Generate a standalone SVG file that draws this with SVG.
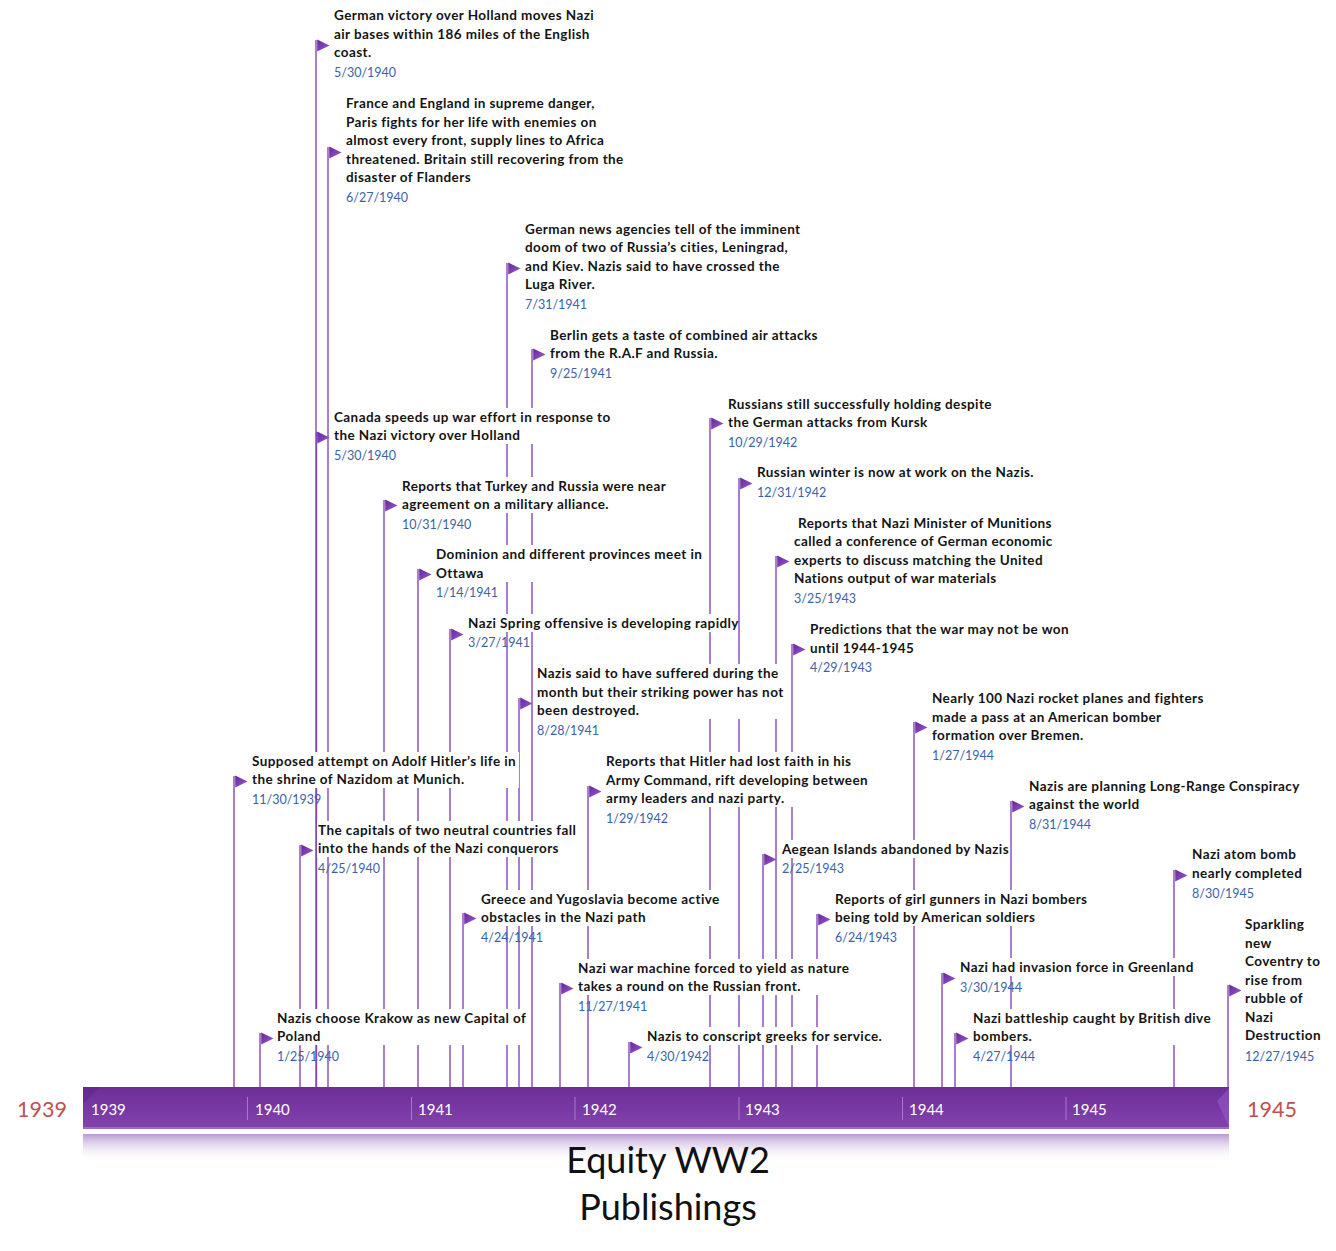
<svg xmlns="http://www.w3.org/2000/svg" xmlns:xlink="http://www.w3.org/1999/xlink" width="1336" height="1251" viewBox="0 0 1336 1251">
<style>
.t{font-family:Lato,"Liberation Sans",sans-serif;font-weight:bold;font-size:13.5px;letter-spacing:0.42px;fill:#141414}
.d{font-family:Lato,"Liberation Sans",sans-serif;font-size:12.5px;fill:#3a62a8}
.bg{fill:#ffffff}
.ln{stroke:#8448b8;stroke-width:1.4;fill:none}
.yr{font-family:Lato,"Liberation Sans",sans-serif;font-size:15px;fill:#ffffff}
.end{font-family:Lato,"Liberation Sans",sans-serif;font-size:21.5px;fill:#c0504d}
.ttl{font-family:Lato,"Liberation Sans",sans-serif;font-size:36px;fill:#111111;text-anchor:middle}
.tick{stroke:#a27ac6;stroke-width:1}
</style>
<defs>
<linearGradient id="fg" x1="0" y1="0" x2="1" y2="1">
<stop offset="0" stop-color="#65269a"/><stop offset="1" stop-color="#9c5cd2"/>
</linearGradient>
<linearGradient id="bar" x1="0" y1="0" x2="0" y2="1">
<stop offset="0" stop-color="#6b2e96"/><stop offset="0.5" stop-color="#7838a3"/><stop offset="1" stop-color="#8444ad"/>
</linearGradient>
<linearGradient id="refl" x1="0" y1="0" x2="0" y2="1">
<stop offset="0" stop-color="#b89ad2"/><stop offset="1" stop-color="#ffffff" stop-opacity="0"/>
</linearGradient>
<path id="flag" d="M1.2,-0.5 L13.5,5.5 L1.2,11.5 Z" fill="url(#fg)"/>
</defs>
<rect width="1336" height="1251" fill="#ffffff"/>

<g id="connectors">
<line class="ln" x1="316" y1="40" x2="316" y2="1088"/>
<line class="ln" x1="328" y1="147" x2="328" y2="1088"/>
<line class="ln" x1="507" y1="263" x2="507" y2="1088"/>
<line class="ln" x1="532" y1="349" x2="532" y2="1088"/>
<line class="ln" x1="316.5" y1="432" x2="316.5" y2="1088"/>
<line class="ln" x1="384" y1="500" x2="384" y2="1088"/>
<line class="ln" x1="418" y1="569" x2="418" y2="1088"/>
<line class="ln" x1="450" y1="629" x2="450" y2="1088"/>
<line class="ln" x1="519" y1="698" x2="519" y2="1088"/>
<line class="ln" x1="234" y1="776" x2="234" y2="1088"/>
<line class="ln" x1="588" y1="786" x2="588" y2="1088"/>
<line class="ln" x1="300" y1="845" x2="300" y2="1088"/>
<line class="ln" x1="463" y1="913" x2="463" y2="1088"/>
<line class="ln" x1="560" y1="983" x2="560" y2="1088"/>
<line class="ln" x1="260" y1="1033" x2="260" y2="1088"/>
<line class="ln" x1="629" y1="1042" x2="629" y2="1088"/>
<line class="ln" x1="710" y1="418" x2="710" y2="1088"/>
<line class="ln" x1="739" y1="478" x2="739" y2="1088"/>
<line class="ln" x1="776" y1="556" x2="776" y2="1088"/>
<line class="ln" x1="792" y1="644" x2="792" y2="1088"/>
<line class="ln" x1="763" y1="854" x2="763" y2="1088"/>
<line class="ln" x1="817" y1="914" x2="817" y2="1088"/>
<line class="ln" x1="914" y1="722" x2="914" y2="1088"/>
<line class="ln" x1="1011" y1="801" x2="1011" y2="1088"/>
<line class="ln" x1="942" y1="973" x2="942" y2="1088"/>
<line class="ln" x1="955" y1="1033" x2="955" y2="1088"/>
<line class="ln" x1="1174" y1="870" x2="1174" y2="1088"/>
<line class="ln" x1="1228" y1="985" x2="1228" y2="1088"/>
</g>

<g id="timeline">
<rect x="83" y="1134" width="1146" height="28" fill="url(#refl)"/>
<rect x="83" y="1087" width="1146" height="42" fill="url(#bar)"/>
<rect x="83" y="1127" width="1146" height="2" fill="#9a6cc2"/>
<polygon points="83,1087 100,1087 83,1104" fill="#5e2488" opacity="0.45"/>
<polygon points="1229,1088 1217,1101 1229,1127" fill="#9a62cc" opacity="0.5"/>
<line class="tick" x1="247.5" y1="1097" x2="247.5" y2="1120"/>
<line class="tick" x1="411.5" y1="1097" x2="411.5" y2="1120"/>
<line class="tick" x1="575" y1="1097" x2="575" y2="1120"/>
<line class="tick" x1="739" y1="1097" x2="739" y2="1120"/>
<line class="tick" x1="902.5" y1="1097" x2="902.5" y2="1120"/>
<line class="tick" x1="1066" y1="1097" x2="1066" y2="1120"/>
<text class="yr" x="91" y="1114.5">1939</text>
<text class="yr" x="255" y="1114.5">1940</text>
<text class="yr" x="418" y="1114.5">1941</text>
<text class="yr" x="582" y="1114.5">1942</text>
<text class="yr" x="745" y="1114.5">1943</text>
<text class="yr" x="909" y="1114.5">1944</text>
<text class="yr" x="1072" y="1114.5">1945</text>
<text class="end" x="17" y="1117">1939</text>
<text class="end" x="1247" y="1117">1945</text>
</g>

<g id="title">
<text class="ttl" x="668" y="1173">Equity WW2</text>
<text class="ttl" x="668" y="1220">Publishings</text>
</g>

<g id="e01"><use href="#flag" x="316" y="40"/><rect class="bg" x="333" y="6" width="265" height="56"/>
<text class="t"><tspan x="334" y="19.5">German victory over Holland moves Nazi</tspan><tspan x="334" y="38.5">air bases within 186 miles of the English</tspan><tspan x="334" y="56.5">coast.</tspan></text>
<text class="d" x="334" y="76.5">5/30/1940</text></g>

<g id="e02"><use href="#flag" x="328" y="147"/><rect class="bg" x="345" y="94" width="283" height="92"/>
<text class="t"><tspan x="346" y="107.5">France and England in supreme danger,</tspan><tspan x="346" y="126.5">Paris fights for her life with enemies on</tspan><tspan x="346" y="144.5">almost every front, supply lines to Africa</tspan><tspan x="346" y="163.5">threatened. Britain still recovering from the</tspan><tspan x="346" y="181.5">disaster of Flanders</tspan></text>
<text class="d" x="346" y="201.5">6/27/1940</text></g>

<g id="e03"><use href="#flag" x="507" y="263"/><rect class="bg" x="524" y="220" width="281" height="73"/>
<text class="t"><tspan x="525" y="233.5">German news agencies tell of the imminent</tspan><tspan x="525" y="251.5">doom of two of Russia’s cities, Leningrad,</tspan><tspan x="525" y="270.5">and Kiev. Nazis said to have crossed the</tspan><tspan x="525" y="288.5">Luga River.</tspan></text>
<text class="d" x="525" y="308.5">7/31/1941</text></g>

<g id="e04"><use href="#flag" x="532" y="349"/><rect class="bg" x="549" y="326" width="271" height="36"/>
<text class="t"><tspan x="550" y="339.5">Berlin gets a taste of combined air attacks</tspan><tspan x="550" y="357.5">from the R.A.F and Russia.</tspan></text>
<text class="d" x="550" y="377.5">9/25/1941</text></g>

<g id="e05"><use href="#flag" x="316" y="432"/><rect class="bg" x="333" y="408" width="280" height="36"/>
<text class="t"><tspan x="334" y="421.5">Canada speeds up war effort in response to</tspan><tspan x="334" y="439.5">the Nazi victory over Holland</tspan></text>
<text class="d" x="334" y="459.5">5/30/1940</text></g>

<g id="e06"><use href="#flag" x="384" y="500"/><rect class="bg" x="401" y="477" width="272" height="36"/>
<text class="t"><tspan x="402" y="490.5">Reports that Turkey and Russia were near</tspan><tspan x="402" y="508.5">agreement on a military alliance.</tspan></text>
<text class="d" x="402" y="528.5">10/31/1940</text></g>

<g id="e07"><use href="#flag" x="418" y="569"/><rect class="bg" x="435" y="545" width="271" height="37"/>
<text class="t"><tspan x="436" y="558.5">Dominion and different provinces meet in</tspan><tspan x="436" y="577.5">Ottawa</tspan></text>
<text class="d" x="436" y="596.5">1/14/1941</text></g>

<g id="e08"><use href="#flag" x="450" y="629"/><rect class="bg" x="467" y="614" width="271" height="18"/>
<text class="t" x="468" y="627.5">Nazi Spring offensive is developing rapidly</text>
<text class="d" x="468" y="646.5">3/27/1941</text></g>

<g id="e09"><use href="#flag" x="519" y="698"/><rect class="bg" x="536" y="664" width="253" height="55"/>
<text class="t"><tspan x="537" y="677.5">Nazis said to have suffered during the</tspan><tspan x="537" y="696.5">month but their striking power has not</tspan><tspan x="537" y="714.5">been destroyed.</tspan></text>
<text class="d" x="537" y="734.5">8/28/1941</text></g>

<g id="e10"><use href="#flag" x="234" y="776"/><rect class="bg" x="251" y="752" width="268" height="36"/>
<text class="t"><tspan x="252" y="765.5">Supposed attempt on Adolf Hitler’s life in</tspan><tspan x="252" y="783.5">the shrine of Nazidom at Munich.</tspan></text>
<text class="d" x="252" y="803.5">11/30/1939</text></g>

<g id="e11"><use href="#flag" x="588" y="786"/><rect class="bg" x="605" y="752" width="268" height="55"/>
<text class="t"><tspan x="606" y="765.5">Reports that Hitler had lost faith in his</tspan><tspan x="606" y="784.5">Army Command, rift developing between</tspan><tspan x="606" y="802.5">army leaders and nazi party.</tspan></text>
<text class="d" x="606" y="822.5">1/29/1942</text></g>

<g id="e12"><use href="#flag" x="300" y="845"/><rect class="bg" x="317" y="821" width="262" height="36"/>
<text class="t"><tspan x="318" y="834.5">The capitals of two neutral countries fall</tspan><tspan x="318" y="852.5">into the hands of the Nazi conquerors</tspan></text>
<text class="d" x="318" y="872.5">4/25/1940</text></g>

<g id="e13"><use href="#flag" x="463" y="913"/><rect class="bg" x="480" y="890" width="244" height="36"/>
<text class="t"><tspan x="481" y="903.5">Greece and Yugoslavia become active</tspan><tspan x="481" y="921.5">obstacles in the Nazi path</tspan></text>
<text class="d" x="481" y="941.5">4/24/1941</text></g>

<g id="e14"><use href="#flag" x="560" y="983"/><rect class="bg" x="577" y="959" width="277" height="36"/>
<text class="t"><tspan x="578" y="972.5">Nazi war machine forced to yield as nature</tspan><tspan x="578" y="990.5">takes a round on the Russian front.</tspan></text>
<text class="d" x="578" y="1010.5">11/27/1941</text></g>

<g id="e15"><use href="#flag" x="260" y="1033"/><rect class="bg" x="276" y="1009" width="252" height="36"/>
<text class="t"><tspan x="277" y="1022.5">Nazis choose Krakow as new Capital of</tspan><tspan x="277" y="1040.5">Poland</tspan></text>
<text class="d" x="277" y="1060.5">1/25/1940</text></g>

<g id="e16"><use href="#flag" x="629" y="1042"/><rect class="bg" x="646" y="1027" width="234" height="18"/>
<text class="t" x="647" y="1040.5">Nazis to conscript greeks for service.</text>
<text class="d" x="647" y="1060.5">4/30/1942</text></g>

<g id="e17"><use href="#flag" x="710" y="418"/><rect class="bg" x="727" y="395" width="266" height="36"/>
<text class="t"><tspan x="728" y="408.5">Russians still successfully holding despite</tspan><tspan x="728" y="426.5">the German attacks from Kursk</tspan></text>
<text class="d" x="728" y="446.5">10/29/1942</text></g>

<g id="e18"><use href="#flag" x="739" y="478"/><rect class="bg" x="756" y="463" width="279" height="18"/>
<text class="t" x="757" y="476.5">Russian winter is now at work on the Nazis.</text>
<text class="d" x="757" y="496.5">12/31/1942</text></g>

<g id="e19"><use href="#flag" x="776" y="556"/><rect class="bg" x="793" y="514" width="265" height="73"/>
<text class="t"><tspan x="798" y="527.5">Reports that Nazi Minister of Munitions</tspan><tspan x="794" y="545.5">called a conference of German economic</tspan><tspan x="794" y="564.5">experts to discuss matching the United</tspan><tspan x="794" y="582.5">Nations output of war materials</tspan></text>
<text class="d" x="794" y="602.5">3/25/1943</text></g>

<g id="e20"><use href="#flag" x="792" y="644"/><rect class="bg" x="809" y="620" width="266" height="37"/>
<text class="t"><tspan x="810" y="633.5">Predictions that the war may not be won</tspan><tspan x="810" y="652.5">until 1944-1945</tspan></text>
<text class="d" x="810" y="671.5">4/29/1943</text></g>

<g id="e21"><use href="#flag" x="763" y="854"/><rect class="bg" x="781" y="840" width="229" height="18"/>
<text class="t" x="782" y="853.5">Aegean Islands abandoned by Nazis</text>
<text class="d" x="782" y="872.5">2/25/1943</text></g>

<g id="e22"><use href="#flag" x="817" y="914"/><rect class="bg" x="834" y="890" width="256" height="36"/>
<text class="t"><tspan x="835" y="903.5">Reports of girl gunners in Nazi bombers</tspan><tspan x="835" y="921.5">being told by American soldiers</tspan></text>
<text class="d" x="835" y="941.5">6/24/1943</text></g>

<g id="e23"><use href="#flag" x="914" y="722"/><rect class="bg" x="931" y="689" width="273" height="55"/>
<text class="t"><tspan x="932" y="702.5">Nearly 100 Nazi rocket planes and fighters</tspan><tspan x="932" y="721.5">made a pass at an American bomber</tspan><tspan x="932" y="739.5">formation over Bremen.</tspan></text>
<text class="d" x="932" y="759.5">1/27/1944</text></g>

<g id="e24"><use href="#flag" x="1011" y="801"/><rect class="bg" x="1028" y="777" width="272" height="36"/>
<text class="t"><tspan x="1029" y="790.5">Nazis are planning Long-Range Conspiracy</tspan><tspan x="1029" y="808.5">against the world</tspan></text>
<text class="d" x="1029" y="828.5">8/31/1944</text></g>

<g id="e25"><use href="#flag" x="942" y="973"/><rect class="bg" x="959" y="958" width="235" height="18"/>
<text class="t" x="960" y="971.5">Nazi had invasion force in Greenland</text>
<text class="d" x="960" y="991.5">3/30/1944</text></g>

<g id="e26"><use href="#flag" x="955" y="1033"/><rect class="bg" x="972" y="1009" width="240" height="36"/>
<text class="t"><tspan x="973" y="1022.5">Nazi battleship caught by British dive</tspan><tspan x="973" y="1040.5">bombers.</tspan></text>
<text class="d" x="973" y="1060.5">4/27/1944</text></g>

<g id="e27"><use href="#flag" x="1174" y="870"/><rect class="bg" x="1191" y="845" width="114" height="37"/>
<text class="t"><tspan x="1192" y="858.5">Nazi atom bomb</tspan><tspan x="1192" y="877.5">nearly completed</tspan></text>
<text class="d" x="1192" y="897.5">8/30/1945</text></g>

<g id="e28"><use href="#flag" x="1228" y="985"/><rect class="bg" x="1244" y="915" width="80" height="129"/>
<text class="t"><tspan x="1245" y="928.5">Sparkling</tspan><tspan x="1245" y="947.5">new</tspan><tspan x="1245" y="965.5">Coventry to</tspan><tspan x="1245" y="984.5">rise from</tspan><tspan x="1245" y="1002.5">rubble of</tspan><tspan x="1245" y="1021.5">Nazi</tspan><tspan x="1245" y="1039.5">Destruction</tspan></text>
<text class="d" x="1245" y="1060.5">12/27/1945</text></g>
</svg>
